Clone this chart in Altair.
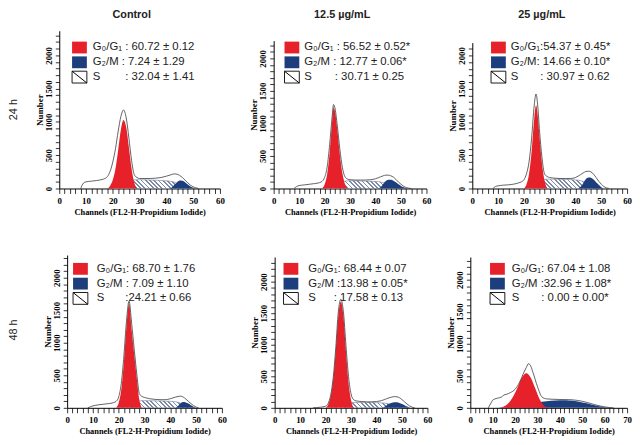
import altair as alt
import pandas as pd

RED = "#e6212a"
BLUE = "#1c3e7d"
HATCH = "#7d8ba6"
SANS = "Liberation Sans"
SERIF = "Liberation Serif"

COLUMNS = ["Control", "12.5 µg/mL", "25 µg/mL"]
ROWS = ["24 h", "48 h"]

G1_PCT = ["60.72 ± 0.12", "56.52 ± 0.52*", "54.37 ± 0.45*", "68.70 ± 1.76", "68.44 ± 0.07", "67.04 ± 1.08"]
G2_PCT = ["7.24 ± 1.29", "12.77 ± 0.06*", "14.66 ± 0.10*", "7.09 ± 1.10", "13.98 ± 0.05*", "32.96 ± 1.08*"]
S_PCT = ["32.04 ± 1.41", "30.71 ± 0.25", "30.97 ± 0.62", "24.21 ± 0.66", "17.58 ± 0.13", "0.00 ± 0.00*"]

# ---- Control, 24 h
P1_TOTAL_X = [8, 9, 10, 12, 14, 16, 17, 18, 19, 20, 21, 22, 23, 24, 25, 26, 27, 28, 29, 30, 32, 34, 36, 38, 40, 42, 43, 44, 45, 46, 47, 48, 49, 50, 51, 52]
P1_TOTAL_Y = [0, 80, 100, 110, 120, 135, 150, 180, 260, 400, 600, 860, 1080, 1180, 1060, 760, 420, 210, 165, 150, 150, 150, 155, 165, 185, 210, 220, 215, 195, 165, 125, 85, 50, 25, 10, 0]
P1_G1_X = [18, 19, 20, 21, 22, 23, 24, 25, 26, 27, 28, 29]
P1_G1_Y = [0, 40, 130, 300, 580, 880, 1030, 920, 620, 300, 90, 0]
P1_S_X = [20, 22, 24, 26, 28, 30, 32, 34, 36, 38, 40, 42, 44, 46, 48]
P1_S_Y = [0, 35, 80, 115, 130, 132, 130, 127, 124, 120, 115, 105, 80, 40, 0]
P1_G2_X = [41, 42, 43, 44, 45, 46, 47, 48, 49, 50, 51]
P1_G2_Y = [0, 15, 55, 95, 120, 118, 95, 60, 30, 10, 0]

# ---- 12.5 ug/mL, 24 h
P2_TOTAL_X = [8, 9, 10, 12, 14, 16, 18, 19, 20, 21, 22, 23, 23.5, 24, 25, 26, 27, 28, 29, 30, 32, 34, 36, 38, 40, 42, 43, 44, 45, 46, 47, 48, 49, 50, 51, 52, 53, 54]
P2_TOTAL_Y = [0, 30, 45, 55, 65, 75, 90, 110, 170, 330, 680, 1120, 1290, 1250, 960, 600, 320, 180, 145, 135, 130, 130, 130, 135, 150, 180, 195, 205, 205, 195, 175, 140, 100, 65, 35, 15, 5, 0]
P2_G1_X = [19, 20, 21, 22, 23, 23.5, 24, 25, 26, 27, 28, 29]
P2_G1_Y = [0, 60, 220, 560, 1050, 1250, 1200, 900, 520, 230, 70, 0]
P2_S_X = [20, 22, 24, 26, 28, 30, 32, 34, 36, 38, 40, 42, 44, 46, 48]
P2_S_Y = [0, 30, 70, 100, 115, 118, 118, 116, 114, 112, 108, 100, 75, 35, 0]
P2_G2_X = [41, 42, 43, 44, 45, 46, 47, 48, 49, 50, 51, 52, 53]
P2_G2_Y = [0, 20, 70, 115, 135, 135, 120, 95, 65, 40, 18, 5, 0]

# ---- 25 ug/mL, 24 h
P3_TOTAL_X = [8, 9, 10, 12, 14, 16, 18, 19, 20, 21, 22, 23, 24, 24.7, 25.5, 26, 27, 28, 29, 30, 32, 34, 36, 38, 40, 42, 43, 44, 45, 46, 47, 48, 49, 50, 51, 52, 53]
P3_TOTAL_Y = [0, 30, 40, 50, 55, 65, 85, 100, 130, 220, 400, 760, 1250, 1420, 1180, 900, 470, 220, 180, 165, 155, 150, 150, 150, 165, 210, 235, 255, 260, 250, 215, 165, 110, 65, 30, 10, 0]
P3_G1_X = [20, 21, 22, 23, 24, 24.7, 25.5, 26, 27, 28, 29]
P3_G1_Y = [0, 60, 220, 560, 1050, 1250, 1050, 800, 380, 120, 0]
P3_S_X = [21, 23, 25, 27, 29, 31, 33, 35, 37, 39, 41, 43, 45, 47]
P3_S_Y = [0, 40, 95, 130, 140, 140, 140, 138, 135, 132, 125, 105, 60, 0]
P3_G2_X = [41, 42, 43, 44, 45, 46, 47, 48, 49, 50, 51]
P3_G2_Y = [0, 25, 80, 140, 165, 160, 135, 95, 55, 20, 0]

# ---- Control, 48 h
P4_TOTAL_X = [8, 10, 12, 14, 16, 18, 19, 20, 21, 22, 23, 24, 25, 26, 27, 28, 29, 30, 32, 34, 36, 38, 40, 42, 43, 44, 45, 46, 47, 48, 49, 50, 51]
P4_TOTAL_Y = [0, 30, 45, 55, 65, 80, 100, 170, 380, 800, 1330, 1640, 1300, 900, 520, 220, 175, 160, 140, 130, 125, 125, 140, 165, 175, 180, 165, 135, 100, 65, 35, 12, 0]
P4_G1_X = [19, 20, 21, 22, 23, 24, 25, 26, 27, 28, 29]
P4_G1_Y = [0, 80, 280, 700, 1250, 1600, 1200, 820, 450, 120, 0]
P4_S_X = [21, 23, 25, 27, 29, 31, 33, 35, 37, 39, 41, 43, 45, 47]
P4_S_Y = [0, 35, 75, 100, 110, 110, 108, 106, 104, 102, 98, 85, 50, 0]
P4_G2_X = [42, 43, 44, 45, 46, 47, 48, 49, 50]
P4_G2_Y = [0, 30, 70, 88, 82, 65, 40, 15, 0]

# ---- 12.5 ug/mL, 48 h
P5_TOTAL_X = [15, 18, 20, 21, 22, 23, 24, 25, 26, 27, 28, 29, 30, 31, 32, 34, 36, 38, 40, 42, 44, 45, 46, 47, 48, 49, 50, 51, 52, 53, 54, 55]
P5_TOTAL_Y = [0, 10, 25, 70, 200, 480, 950, 1520, 1720, 1520, 990, 500, 220, 130, 110, 100, 95, 95, 100, 115, 145, 160, 170, 178, 175, 160, 130, 95, 60, 30, 10, 0]
P5_G1_X = [20, 21, 22, 23, 24, 25, 26, 27, 28, 29, 30, 31]
P5_G1_Y = [0, 50, 180, 450, 900, 1450, 1680, 1450, 900, 400, 120, 0]
P5_S_X = [22, 24, 26, 28, 30, 32, 34, 36, 38, 40, 42, 44, 46, 48, 50]
P5_S_Y = [0, 30, 60, 78, 85, 86, 86, 85, 84, 82, 78, 70, 50, 25, 0]
P5_G2_X = [42, 43, 44, 45, 46, 47, 48, 49, 50, 51, 52, 53, 54]
P5_G2_Y = [0, 15, 40, 65, 82, 90, 88, 78, 60, 40, 20, 7, 0]

# ---- 25 ug/mL, 48 h
P6_TOTAL_X = [8, 9, 10, 12, 14, 15, 16, 18, 20, 22, 24, 25, 26, 27, 28, 30, 32, 34, 36, 40, 44, 48, 52, 56, 60, 62, 64]
P6_TOTAL_Y = [0, 60, 120, 150, 170, 200, 210, 240, 290, 400, 560, 630, 690, 650, 550, 330, 170, 140, 135, 130, 128, 115, 85, 45, 15, 5, 0]
P6_G1_X = [13, 15, 17, 19, 21, 23, 25, 27, 29, 31, 33, 35]
P6_G1_Y = [0, 20, 70, 170, 310, 470, 540, 470, 300, 130, 30, 0]
P6_G2_X = [12, 16, 20, 24, 28, 32, 36, 40, 42, 44, 48, 52, 56, 60, 63]
P6_G2_Y = [0, 10, 25, 45, 70, 95, 110, 117, 117, 115, 100, 70, 35, 10, 0]

ONE = pd.DataFrame({"k": [0]})


def df(xs, ys):
    return pd.DataFrame({"ch": xs, "n": ys})


def hatch_gradient(sx, sy, W, H, xmax, ydom, ytop):
    wpx = (max(sx) - min(sx)) * W / xmax
    hpx = max(sy) * (H - ytop) / ydom
    r = hpx / wpx
    n = max(4, round(wpx / 4.2))
    stops = []
    for k in range(n):
        stops += [
            alt.GradientStop(offset=k / n, color="white"),
            alt.GradientStop(offset=(k + 0.58) / n, color="white"),
            alt.GradientStop(offset=(k + 0.58) / n, color=HATCH),
            alt.GradientStop(offset=(k + 1) / n, color=HATCH),
        ]
    return alt.Gradient(gradient="linear", stops=stops, x1=0, x2=1,
                        y1=0.5 + 0.5 * r, y2=0.5 - 0.5 * r)


def vtext(x, y, s, **kw):
    return alt.Chart(ONE).mark_text(text=s, **kw).encode(x=alt.value(x), y=alt.value(y))


def rect(x0, y0, w, h, **kw):
    return alt.Chart(ONE).mark_rect(**kw).encode(
        x=alt.value(x0), x2=alt.value(x0 + w), y=alt.value(y0), y2=alt.value(y0 + h))


def panel(i, total, g1, g2, s, W, H, xmax, ydom, ytop, lx, tx, sx_val,
          seps, header=None, rowlab=None, rowlab_dx=-46, xoff=0):
    xscale = alt.Scale(domain=[0, xmax], range=[xoff, xoff + W], nice=False, zero=True)
    yscale = alt.Scale(domain=[0, ydom], range=[H, ytop], nice=False, zero=True)
    xaxis = alt.Axis(
        values=list(range(0, xmax + 1, 2)),
        labelExpr="datum.value % 10 === 0 ? datum.label : ''",
        title="Channels (FL2-H-Propidium Iodide)",
        labelFont=SERIF, labelFontWeight="bold", labelFontSize=9,
        titleFont=SERIF, titleFontWeight="bold", titleFontSize=8.5,
        tickSize=5, labelPadding=3, titlePadding=2, grid=False,
        labelFlush=False, labelOverlap=False, format="d",
    )
    yaxis = alt.Axis(
        values=list(range(0, int(ydom) + 1, 100)),
        labelExpr="datum.value % 500 === 0 ? datum.label : ''",
        title="Number", labelAngle=270, labelAlign="center", labelBaseline="bottom",
        labelFont=SERIF, labelFontWeight="bold", labelFontSize=9,
        titleFont=SERIF, titleFontWeight="bold", titleFontSize=9,
        tickSize=4, labelPadding=2, titlePadding=0, grid=False,
        labelFlush=False, labelOverlap=False, format="d", offset=-xoff,
    )
    X = alt.X("ch:Q", scale=xscale, axis=xaxis)
    Y = alt.Y("n:Q", scale=yscale, axis=yaxis)

    layers = []
    if s is not None:
        grad = hatch_gradient(s[0], s[1], W, H, xmax, ydom, ytop)
        layers.append(alt.Chart(df(*s)).mark_area(
            fill=grad, stroke="#6f7d98", strokeWidth=0.6, interpolate="monotone"
        ).encode(x=X, y=Y))
    layers.append(alt.Chart(df(*g2)).mark_area(color=BLUE, interpolate="monotone").encode(x=X, y=Y))
    layers.append(alt.Chart(df(*g1)).mark_area(color=RED, interpolate="monotone").encode(x=X, y=Y))
    layers.append(alt.Chart(df(*total)).mark_line(
        color="#3a3a3a", strokeWidth=0.8, interpolate="monotone").encode(x=X, y=Y))

    # legend
    lx, tx, sx_val = lx + xoff, tx + xoff, sx_val + xoff
    rows_y = [17, 32, 47]
    tstyle = dict(align="left", baseline="middle", font=SANS, fontSize=11.5, color="#222222")
    layers.append(rect(lx, rows_y[0] - 6, 15, 12, color=RED))
    layers.append(rect(lx, rows_y[1] - 6, 15, 12, color=BLUE))
    layers.append(rect(lx, rows_y[2] - 6, 15, 12, fill="white", stroke="black", strokeWidth=0.9))
    layers.append(alt.Chart(ONE).mark_rule(color="black", strokeWidth=1).encode(
        x=alt.value(lx), y=alt.value(rows_y[2] - 6), x2=alt.value(lx + 15), y2=alt.value(rows_y[2] + 6)))
    layers.append(vtext(tx, rows_y[0], "G₀/G₁" + seps[0] + G1_PCT[i], **tstyle))
    layers.append(vtext(tx, rows_y[1], "G₂/M" + seps[1] + G2_PCT[i], **tstyle))
    layers.append(vtext(tx, rows_y[2], "S", **tstyle))
    layers.append(vtext(sx_val, rows_y[2], seps[2] + S_PCT[i], **tstyle))

    if header is not None:
        layers.append(vtext(xoff + W / 2 - 8, -16, header, align="center", baseline="middle",
                            font=SANS, fontSize=11, fontWeight="bold", color="#222222"))
    if rowlab is not None:
        layers.append(vtext(rowlab_dx, H / 2, rowlab, align="center", baseline="middle",
                            angle=270, font=SANS, fontSize=11, color="#222222"))
    return alt.layer(*layers).properties(width=W + xoff, height=H)


p1 = panel(0, (P1_TOTAL_X, P1_TOTAL_Y), (P1_G1_X, P1_G1_Y), (P1_G2_X, P1_G2_Y), (P1_S_X, P1_S_Y),
           163, 160, 60, 2370, 0, 13, 34, 67, [" : ", " : ", ": "], header=COLUMNS[0], rowlab=ROWS[0])
p2 = panel(1, (P2_TOTAL_X, P2_TOTAL_Y), (P2_G1_X, P2_G1_Y), (P2_G2_X, P2_G2_Y), (P2_S_X, P2_S_Y),
           155, 160, 60, 2273, 10, 11, 31, 62, [" : ", " : ", ": "], header=COLUMNS[1])
p3 = panel(2, (P3_TOTAL_X, P3_TOTAL_Y), (P3_G1_X, P3_G1_Y), (P3_G2_X, P3_G2_Y), (P3_S_X, P3_S_Y),
           157, 160, 60, 2193, 12, 19, 39, 69, [":", ": ", ": "], header=COLUMNS[2])
p4 = panel(3, (P4_TOTAL_X, P4_TOTAL_Y), (P4_G1_X, P4_G1_Y), (P4_G2_X, P4_G2_Y), (P4_S_X, P4_S_Y),
           157, 158, 60, 2348, 3, 6, 30, 59, [": ", " : ", ":"], rowlab=ROWS[1], xoff=8)
p5 = panel(4, (P5_TOTAL_X, P5_TOTAL_Y), (P5_G1_X, P5_G1_Y), (P5_G2_X, P5_G2_Y), (P5_S_X, P5_S_Y),
           155, 158, 60, 2390, 5, 9, 34, 60, [": ", " :", ": "])
p6 = panel(5, (P6_TOTAL_X, P6_TOTAL_Y), (P6_G1_X, P6_G1_Y), (P6_G2_X, P6_G2_Y), None,
           159, 158, 70, 2354, 5, 20, 42, 72, [": ", " :", ": "])

top = alt.concat(p1, alt.concat(p2, p3, columns=2, spacing=16.5, align="none"),
                 columns=2, spacing=24.5, align="none")
bottom = alt.concat(p4, alt.concat(p5, p6, columns=2, spacing=13.5, align="none"),
                    columns=2, spacing=24.5, align="none")

chart = alt.concat(top, bottom, columns=1, spacing=36.5, align="none").properties(
    padding={"top": -2, "left": 0, "right": 0, "bottom": 0}, background="white"
).configure_view(strokeWidth=0).configure_axis(
    domainColor="black", tickColor="black", labelColor="black", titleColor="black",
    domainWidth=1, tickWidth=0.8
)

chart.save("out.html", embed_options={"renderer": "svg", "actions": False})
